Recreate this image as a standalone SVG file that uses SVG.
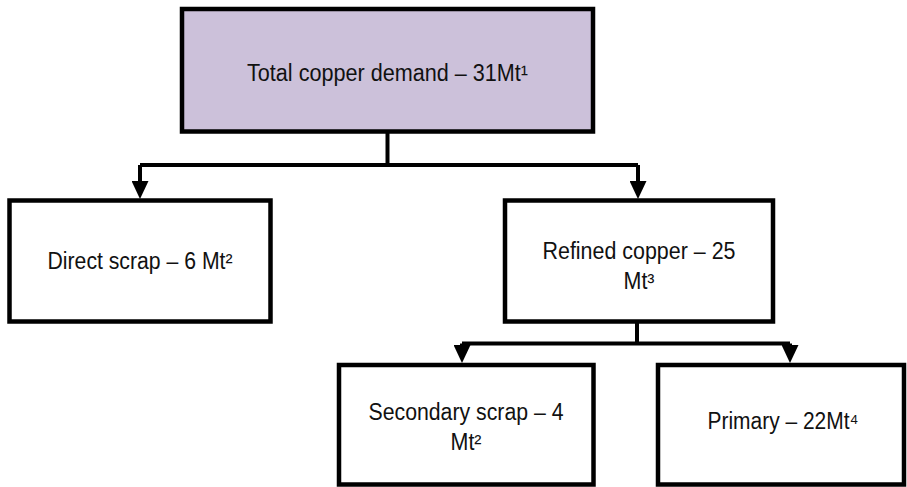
<svg xmlns="http://www.w3.org/2000/svg" width="907" height="487" viewBox="0 0 907 487">
  <style>
    .box { fill: #ffffff; stroke: #000000; stroke-width: 4.5; }
    .top { fill: #ccc1da; }
    .lbl { font-family: "Liberation Sans", Arial, sans-serif; font-size: 23px; fill: #111111; text-anchor: middle; }
    .link { fill: none; stroke: #000000; stroke-width: 4; }
  </style>
  <defs>
    <marker id="arrow" markerUnits="userSpaceOnUse" viewBox="0 0 18 17" refX="8" refY="8.5" markerWidth="18" markerHeight="17" orient="auto">
      <path d="M0,0 L18,8.5 L0,17 z" fill="#000000"/>
    </marker>
  </defs>

  <rect width="907" height="487" fill="#ffffff"/>

  <g id="connectors">
    <path class="link" d="M387.5,131 V165"/>
    <path class="link" d="M140,165 H638"/>
    <path class="link" d="M140,165 V189" marker-end="url(#arrow)"/>
    <path class="link" d="M638,165 V189" marker-end="url(#arrow)"/>
    <path class="link" d="M637,322 V343.5"/>
    <path class="link" d="M462,343.5 H790"/>
    <path class="link" d="M462,343.5 V353" marker-end="url(#arrow)"/>
    <path class="link" d="M790,343.5 V353" marker-end="url(#arrow)"/>
  </g>

  <g id="total">
    <rect class="box top" x="182" y="9" width="411" height="122.5"/>
    <text class="lbl" x="387.5" y="81" textLength="281" lengthAdjust="spacingAndGlyphs">Total copper demand – 31Mt¹</text>
  </g>

  <g id="direct-scrap">
    <rect class="box" x="9.5" y="200.5" width="261" height="121"/>
    <text class="lbl" x="140" y="269" textLength="185" lengthAdjust="spacingAndGlyphs">Direct scrap – 6 Mt²</text>
  </g>

  <g id="refined">
    <rect class="box" x="505" y="200.5" width="268" height="121"/>
    <text class="lbl" x="639" y="259" textLength="193" lengthAdjust="spacingAndGlyphs">Refined copper – 25</text>
    <text class="lbl" x="639" y="289" textLength="31" lengthAdjust="spacingAndGlyphs">Mt³</text>
  </g>

  <g id="secondary-scrap">
    <rect class="box" x="339" y="365" width="254.5" height="119.5"/>
    <text class="lbl" x="466" y="420" textLength="195" lengthAdjust="spacingAndGlyphs">Secondary scrap – 4</text>
    <text class="lbl" x="466" y="450" textLength="31" lengthAdjust="spacingAndGlyphs">Mt²</text>
  </g>

  <g id="primary">
    <rect class="box" x="658" y="365" width="246" height="119.5"/>
    <text class="lbl" x="783" y="429" textLength="151" lengthAdjust="spacingAndGlyphs">Primary – 22Mt⁴</text>
  </g>
</svg>
